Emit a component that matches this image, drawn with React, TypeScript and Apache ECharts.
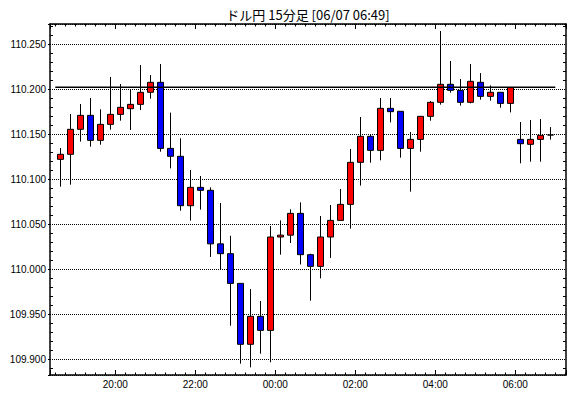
import React, { useEffect, useRef } from 'react';
import * as echarts from 'echarts';

const chartTitle = 'ドル円 15分足 [06/07 06:49]';

// 15-minute bars (start time of each bar)
const times = [
  '18:30', '18:45', '19:00', '19:15', '19:30', '19:45', '20:00', '20:15', '20:30', '20:45',
  '21:00', '21:15', '21:30', '21:45', '22:00', '22:15', '22:30', '22:45', '23:00', '23:15',
  '23:30', '23:45', '00:00', '00:15', '00:30', '00:45', '01:00', '01:15', '01:30', '01:45',
  '02:00', '02:15', '02:30', '02:45', '03:00', '03:15', '03:30', '03:45', '04:00', '04:15',
  '04:30', '04:45', '05:00', '05:15', '05:30', '05:45', '06:00', '06:15', '06:30', '06:45',
];
const opens = [
  110.1222, 110.1278, 110.1556, 110.1711, 110.1433, 110.1611, 110.1722, 110.1785, 110.1833, 110.1967,
  110.2078, 110.1344, 110.1256, 110.0707, 110.0911, 110.0878, 110.0283, 110.0174, 109.9844, 109.9167,
  109.9478, 109.9322, 110.0359, 110.0380, 110.0622, 110.0163, 110.0033, 110.0359, 110.0544, 110.0722,
  110.1189, 110.1478, 110.1322, 110.1789, 110.1756, 110.1344, 110.1444, 110.1700, 110.1856, 110.2056,
  110.1989, 110.1856, 110.2078, 110.1922, 110.1967, 110.1844, 110.1444, 110.1389, 110.1444, 110.1493,
];
const closes = [
  110.1278, 110.1556, 110.1711, 110.1433, 110.1611, 110.1722, 110.1800, 110.1833, 110.1967, 110.2078,
  110.1344, 110.1256, 110.0707, 110.0911, 110.0878, 110.0283, 110.0174, 109.9844, 109.9167, 109.9478,
  109.9322, 110.0359, 110.0380, 110.0622, 110.0163, 110.0033, 110.0359, 110.0544, 110.0722, 110.1189,
  110.1478, 110.1322, 110.1789, 110.1752, 110.1344, 110.1444, 110.1700, 110.1856, 110.2056, 110.1989,
  110.1856, 110.2089, 110.1922, 110.1967, 110.1844, 110.2019, 110.1396, 110.1444, 110.1489, 110.1493,
];
const lows = [
  110.0919, 110.0941, 110.1419, 110.1363, 110.1385, 110.1552, 110.1652, 110.1548, 110.1770, 110.1896,
  110.1307, 110.1122, 110.0652, 110.0541, 110.0663, 110.0138, 110.0000, 109.9374, 109.8952, 109.8911,
  109.9063, 109.8967, 110.0163, 110.0293, 110.0054, 109.9652, 109.9900, 110.0127, 110.0544, 110.0453,
  110.0930, 110.1185, 110.1211, 110.1633, 110.1241, 110.0863, 110.1307, 110.1652, 110.1830, 110.1963,
  110.1819, 110.1844, 110.1885, 110.1874, 110.1796, 110.1744, 110.1178, 110.1196, 110.1196, 110.1441,
];
const highs = [
  110.1348, 110.1726, 110.1837, 110.1904, 110.1778, 110.2137, 110.2059, 110.2000, 110.2270, 110.2159,
  110.2281, 110.1741, 110.1456, 110.1104, 110.1037, 110.0911, 110.0737, 110.0373, 109.9844, 109.9781,
  109.9648, 110.0482, 110.0544, 110.0667, 110.0744, 110.0174, 110.0593, 110.0715, 110.0893, 110.1337,
  110.1693, 110.1500, 110.1904, 110.1904, 110.1756, 110.1526, 110.1700, 110.1870, 110.2648, 110.2315,
  110.2115, 110.2281, 110.2181, 110.2044, 110.1967, 110.2019, 110.1637, 110.1659, 110.1670, 110.1581,
];

// previous close reference line
const refLevel = 110.2022;
const refSpan = ['18:30', '06:45'];

// labelled time ticks
const xTickLabels = ['20:00', '22:00', '00:00', '02:00', '04:00', '06:00'];

// hours after 18:00
const toHours = (t: string) => {
  const [hh, mm] = t.split(':').map(Number);
  return ((hh - 18 + 24) % 24) + mm / 60;
};
const BAR_H = 0.25;
const X_MIN = 0.3675;
const X_MAX = 13.2675;
const Y_MIN = 109.8826;
const Y_MAX = 110.2726;

const fmtX = (v: number) => {
  const r = Math.round(v);
  if (Math.abs(v - r) > 1e-6) return '';
  const hh = (r + 18) % 24;
  const s = (hh < 10 ? '0' : '') + hh + ':00';
  return xTickLabels.indexOf(s) >= 0 ? s : '';
};
const fmtY = (v: number) => {
  const k = v / 0.05;
  if (Math.abs(k - Math.round(k)) > 1e-6) return '';
  return v.toFixed(3);
};

export default function App() {
  const ref = useRef<HTMLDivElement>(null);
  useEffect(() => {
    if (!ref.current) return;
    const chart = echarts.init(ref.current, null, { renderer: 'svg' });
    const candles = times.map((t, i) => [toHours(t) + BAR_H / 2, opens[i], closes[i], lows[i], highs[i]]);
    const refLine = refSpan.map((t, i) => [toHours(t) + (i === 1 ? BAR_H : 0), refLevel]);
    const labelFont = { fontFamily: '"Liberation Sans", Arial, sans-serif', fontSize: 10, color: '#000' };
    const axisLine = { show: true, lineStyle: { color: '#000', width: 1.5 } };
    const xCommon = {
      type: 'value',
      min: X_MIN,
      max: X_MAX,
      splitNumber: 6,
      axisLine,
      axisTick: { show: true, inside: true, length: 5, lineStyle: { color: '#000', width: 1 } },
      minorTick: { show: true, splitNumber: 8, length: 2.5, lineStyle: { color: '#000', width: 1 } },
      splitLine: { show: false },
      minorSplitLine: { show: false },
    };
    const yCommon = {
      type: 'value',
      min: Y_MIN,
      max: Y_MAX,
      splitNumber: 8,
      scale: true,
      minorSplitLine: { show: false },
    };
    chart.setOption({
      animation: false,
      backgroundColor: '#fff',
      grid: { left: 50, right: 4, top: 24, bottom: 23, containLabel: false, outerBoundsMode: 'none', show: false },
      graphic: [
        {
          type: 'text',
          x: 308,
          y: 14,
          style: {
            text: chartTitle,
            fontFamily: '"Noto Sans CJK JP", sans-serif',
            fontSize: 13,
            fill: '#000',
            align: 'center',
            verticalAlign: 'middle',
          },
        },
      ],
      xAxis: [
        {
          ...xCommon,
          position: 'bottom',
          axisLabel: { show: true, margin: 4, formatter: fmtX, ...labelFont },
        },
        {
          ...xCommon,
          position: 'top',
          axisLabel: { show: false },
        },
      ],
      yAxis: [
        {
          ...yCommon,
          position: 'left',
          axisLine,
          axisTick: { show: true, inside: false, length: 2, lineStyle: { color: '#000', width: 1 } },
          minorTick: { show: false },
          axisLabel: { show: true, margin: 4, formatter: fmtY, ...labelFont },
          splitLine: { show: true, lineStyle: { color: '#000', width: 1, type: [1, 1] } },
        },
        {
          ...yCommon,
          position: 'right',
          axisLine,
          axisTick: { show: false, inside: true },
          minorTick: { show: true, splitNumber: 5, length: 3, lineStyle: { color: '#000', width: 1 } },
          axisLabel: { show: false },
          splitLine: { show: false },
        },
        {
          ...yCommon,
          position: 'left',
          axisLine: { show: false },
          axisTick: { show: false, inside: true },
          minorTick: { show: true, splitNumber: 5, length: 3, lineStyle: { color: '#000', width: 1 } },
          axisLabel: { show: false },
          splitLine: { show: false },
        },
      ],
      series: [
        {
          type: 'candlestick',
          xAxisIndex: 0,
          yAxisIndex: 0,
          encode: { x: 0, y: [1, 2, 3, 4] },
          barWidth: 6,
          data: candles,
          itemStyle: {
            color: '#ff0000',
            color0: '#0000ff',
            borderColor: '#000',
            borderColor0: '#000',
            borderColorDoji: '#000',
            borderWidth: 1,
          },
          z: 2,
        },
        {
          type: 'line',
          xAxisIndex: 0,
          yAxisIndex: 0,
          data: refLine,
          symbol: 'none',
          lineStyle: { color: '#000', width: 1.5 },
          z: 5,
          silent: true,
        },
      ],
    });
    return () => chart.dispose();
  }, []);
  return <div ref={ref} style={{ position: 'absolute', left: 0, top: 0, width: 570, height: 398, background: '#fff' }} />;
}
